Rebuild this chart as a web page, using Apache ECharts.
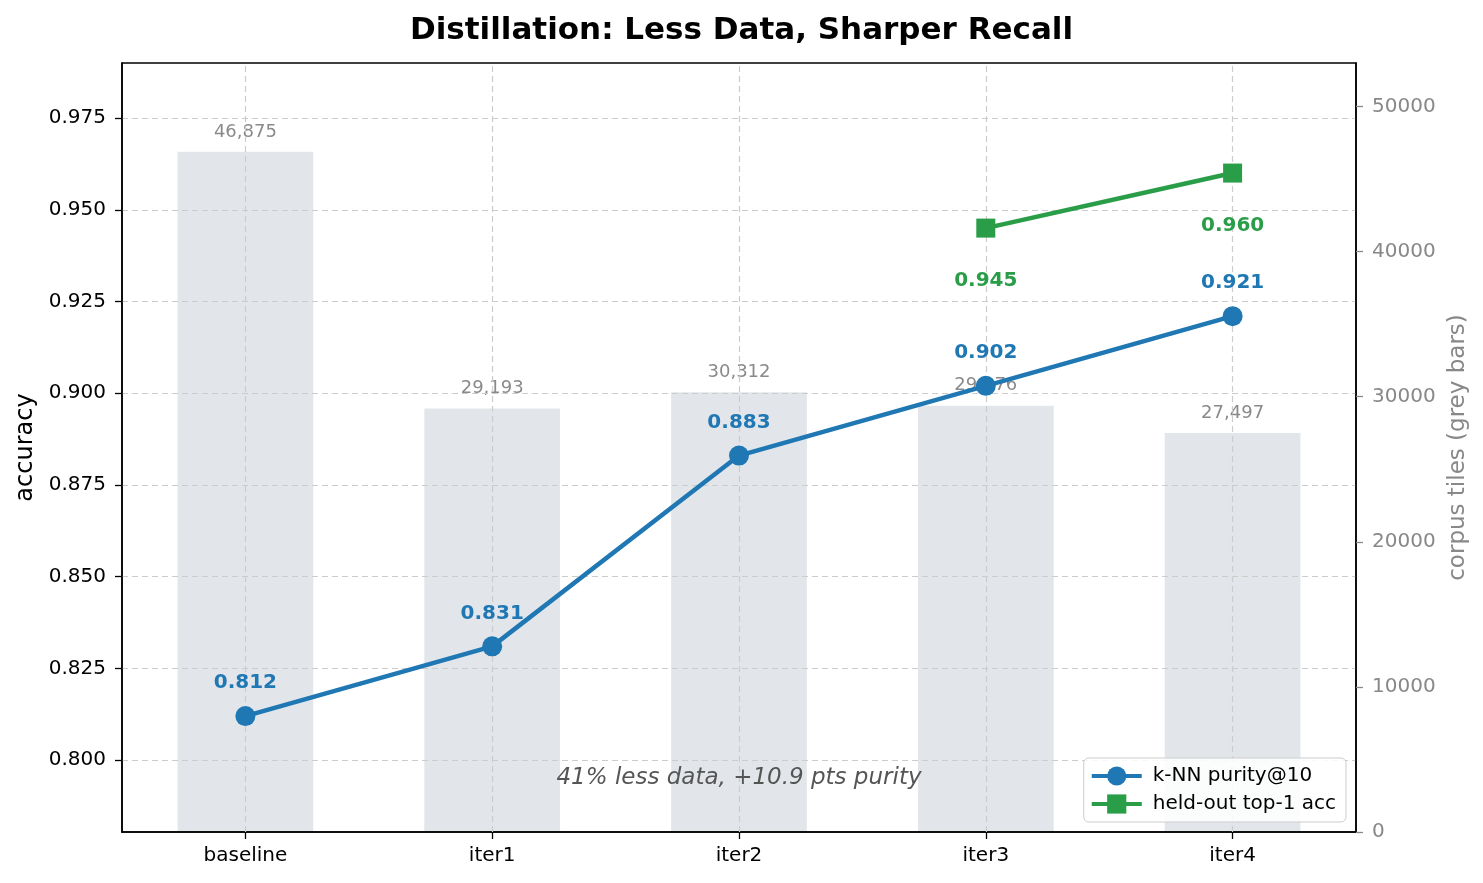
<!DOCTYPE html>
<html><head><meta charset="utf-8">
<script src="https://cdn.jsdelivr.net/npm/echarts@6/dist/echarts.min.js"></script>
<style>html,body{margin:0;padding:0;background:#fff}#c{width:1483px;height:883px}</style>
</head><body><div id="c"></div>
<script>
const categories = ['baseline', 'iter1', 'iter2', 'iter3', 'iter4'];
const corpusTiles = [46875, 29193, 30312, 29376, 27497];
const knnPurity = [0.812, 0.831, 0.883, 0.902, 0.921];
const heldOutAcc = [null, null, null, 0.945, 0.960];
const accuracyTicks = [0.800, 0.825, 0.850, 0.875, 0.900, 0.925, 0.950, 0.975];
const corpusTicks = [0, 10000, 20000, 30000, 40000, 50000];
const titleText = 'Distillation: Less Data, Sharper Recall';
const noteText = '41% less data, +10.9 pts purity';
const seriesNames = ['k-NN purity@10', 'held-out top-1 acc'];

const FONT = 'DejaVu Sans';
const BLUE = '#1f77b4';
const GREEN = '#2a9d48';
const GRID_LINE = { type: [6, 4], color: '#cccccc', width: 1.2 };
const GRID = { left: 122, right: 127, top: 63, bottom: 51 };

const chart = echarts.init(document.getElementById('c'), null, { renderer: 'canvas' });
const W = 1483;

const option = {
  animation: false,
  backgroundColor: '#ffffff',
  textStyle: { fontFamily: FONT },
  title: {
    text: titleText, left: 'center', top: 10,
    textStyle: { fontFamily: FONT, fontSize: 31, fontWeight: 'bold', color: '#000' }
  },
  grid: Object.assign({ show: true, borderColor: '#000', borderWidth: 1.5, backgroundColor: 'transparent', z: 3 }, GRID),
  legend: {
    orient: 'vertical', right: 137, bottom: 61,
    data: seriesNames,
    itemWidth: 50, itemHeight: 24, itemGap: 8,
    padding: [8, 10, 8, 6],
    backgroundColor: 'rgba(255,255,255,0.85)',
    borderColor: '#cccccc', borderWidth: 1, borderRadius: 5,
    lineStyle: { width: 4 },
    textStyle: { fontFamily: FONT, fontSize: 20, color: '#000', padding: [0, 0, 0, 6] },
    z: 10
  },
  xAxis: {
    type: 'category', data: categories, boundaryGap: true, z: 4,
    axisLine: { show: true, lineStyle: { color: '#000', width: 1.5 } },
    axisTick: { show: true, alignWithLabel: true, length: 7, lineStyle: { color: '#000', width: 1.3 } },
    axisLabel: { fontFamily: FONT, fontSize: 20, color: '#000', margin: 14 },
    splitLine: { show: false }
  },
  yAxis: [
    {
      type: 'value', min: 0.7804, max: 0.990, position: 'left', z: 4,
      name: 'accuracy', nameLocation: 'middle', nameGap: 84, nameRotate: 90,
      nameTextStyle: { fontFamily: FONT, fontSize: 24, color: '#000' },
      axisLine: { show: true, lineStyle: { color: '#000', width: 1.5 } },
      axisTick: { show: true, length: 7, customValues: accuracyTicks, lineStyle: { color: '#000', width: 1.3 } },
      axisLabel: { fontFamily: FONT, fontSize: 20, color: '#000', margin: 16, customValues: accuracyTicks,
        formatter: v => v.toFixed(3) },
      splitLine: { show: true, lineStyle: GRID_LINE }
    },
    {
      type: 'value', min: 0, max: 53000, position: 'right', z: 4,
      name: 'corpus tiles (grey bars)', nameLocation: 'middle', nameGap: 80, nameRotate: 90,
      nameTextStyle: { fontFamily: FONT, fontSize: 23, color: '#888888' },
      axisLine: { show: true, lineStyle: { color: '#000', width: 1.5 } },
      axisTick: { show: true, length: 7, customValues: corpusTicks, lineStyle: { color: '#888888', width: 1.3 } },
      axisLabel: { fontFamily: FONT, fontSize: 20, color: '#888888', margin: 16, customValues: corpusTicks,
        formatter: v => String(v) },
      splitLine: { show: false }
    }
  ],
  series: [
    {
      name: 'corpus tiles', type: 'bar', yAxisIndex: 1, z: 1,
      data: corpusTiles, barWidth: '55%',
      itemStyle: { color: '#e2e6ea' },
      label: {
        show: true, position: 'top', distance: 11,
        fontFamily: FONT, fontSize: 18, color: '#8a8a8a',
        formatter: p => p.value.toLocaleString('en-US')
      },
      markLine: {
        silent: true, symbol: ['none', 'none'], label: { show: false },
        lineStyle: GRID_LINE,
        data: categories.map(c => ({ xAxis: c }))
      }
    },
    {
      name: seriesNames[0], type: 'line', yAxisIndex: 0, z: 6,
      data: knnPurity, color: BLUE,
      symbol: 'circle', symbolSize: 20,
      lineStyle: { width: 4.5, color: BLUE },
      itemStyle: { color: BLUE },
      label: {
        show: true, position: 'inside', offset: [0, -33],
        fontFamily: FONT, fontSize: 20, fontWeight: 'bold', color: BLUE,
        formatter: p => p.value.toFixed(3)
      }
    },
    {
      name: seriesNames[1], type: 'line', yAxisIndex: 0, z: 6,
      data: heldOutAcc, color: GREEN, connectNulls: false,
      symbol: 'rect', symbolSize: 19,
      lineStyle: { width: 4.5, color: GREEN },
      itemStyle: { color: GREEN },
      label: {
        show: true, position: 'inside', offset: [0, 53],
        fontFamily: FONT, fontSize: 20, fontWeight: 'bold', color: GREEN,
        formatter: p => (p.value == null ? '' : p.value.toFixed(3))
      }
    }
  ],
  graphic: [
    {
      type: 'text', z: 7,
      x: GRID.left + (W - GRID.left - GRID.right) / 2,
      y: 883 - GRID.bottom - 0.07 * (883 - GRID.top - GRID.bottom),
      style: {
        text: noteText, fontFamily: FONT, fontSize: 23, fontStyle: 'italic',
        fill: '#555555', align: 'center', verticalAlign: 'middle'
      }
    }
  ]
};
chart.setOption(option);
</script>
</body></html>
